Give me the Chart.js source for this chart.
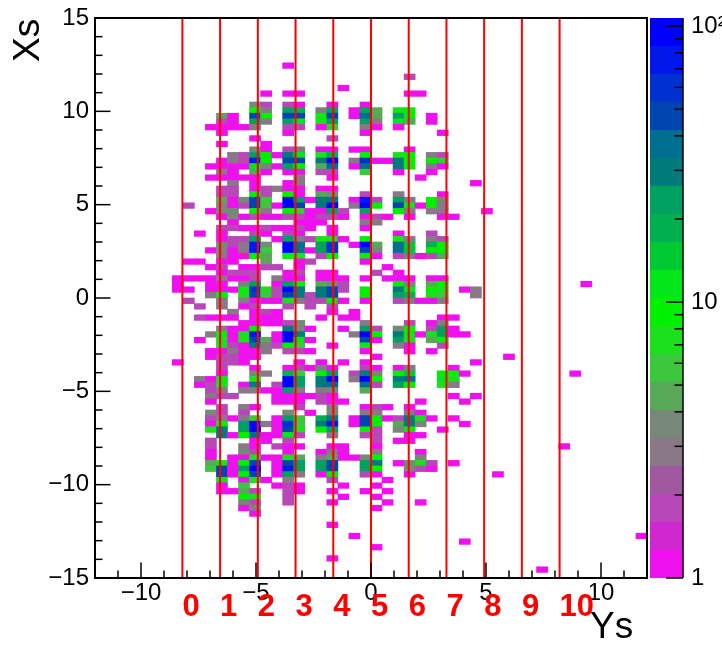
<!DOCTYPE html>
<html>
<head>
<meta charset="utf-8">
<style>
html, body { margin: 0; padding: 0; background: #fff; overflow: hidden; }
canvas { position: absolute; left: 0; top: 0; }
</style>
<script src="https://cdn.jsdelivr.net/npm/chart.js@4"></script>
</head>
<body>
<canvas id="hist" width="722" height="645"></canvas>
<canvas id="palette" width="722" height="645"></canvas>
<script>
// axis ticks
const ysTicks = [-10, -5, 0, 5, 10];
const xsTicks = [-15, -10, -5, 0, 5, 10, 15];
const zTicks = [1, 10, 100];
const zTickLabels = ['1', '10', '10\u00b2'];

// red strip lines
const stripYs = [-8.2, -6.56, -4.92, -3.28, -1.64, 0, 1.64, 3.28, 4.92, 6.56, 8.2];
const stripLabels = ['0', '1', '2', '3', '4', '5', '6', '7', '8', '9', '10'];

// palette bands, bottom to top
const zEdges = [1, 1.263, 1.595, 2.014, 2.545, 3.214, 4.06, 5.13, 6.48, 8.18, 10.33, 13.05, 16.5, 20.8, 26.3, 33.2, 41.9, 53, 66.9, 84.6, 107];
const zColors = ['#ee11ee', '#d028d0', '#b848b8', '#a058a0', '#887888', '#788878', '#58a858', '#3cc83c', '#1ce01c', '#00f000',
    '#00e618', '#00c830', '#00b050', '#00a060', '#007a7a', '#006e8e', '#0044b0', '#0030d0', '#0018ec', '#0000ff'];

// histogram binning
const ysBinWidth = 0.48;
const xsBinWidth = 0.3;
const xsTop = 15;

// filled bins: [row from the top, column from Ys=0, count, column, count, ...]
const rowHits = [
    [8, -8,1],
    [10, 3,2],
    [12, -3,1],
    [13, -10,1, -8,1, -7,1, 3,1, 4,1],
    [15, -11,4, -10,2, -8,2, -7,1, -4,1, -1,1],
    [16, -11,9, -10,3, -8,22, -7,18, -5,3, -4,22, -2,1, -1,22, 0,5, 2,8, 3,9],
    [17, -14,5, -13,1, -11,50, -10,9, -8,50, -7,50, -5,9, -4,50, -2,1, -1,38, 0,5, 2,22, 3,9, 5,1],
    [18, -14,2, -13,1, -11,22, -10,3, -8,22, -7,12, -5,8, -4,22, -1,22, 0,3, 2,12, 3,5, 5,1],
    [19, -15,1, -14,1, -13,1, -12,1, -11,3, -8,2, -7,2, -5,1, -4,6, -1,3, 0,1, 2,1],
    [20, -14,1, -8,1, -1,1, 6,1],
    [21, -11,1, -4,2],
    [22, -14,1, -10,1],
    [23, -11,4, -10,1, -8,2, -7,3, -5,1, -4,1, -2,1, -1,1, 3,1],
    [24, -13,3, -12,2, -11,22, -10,9, -9,1, -8,30, -7,12, -5,8, -4,18, -1,9, 2,8, 3,9, 5,3, 6,2],
    [25, -14,1, -13,3, -12,2, -11,75, -10,9, -8,50, -7,50, -5,30, -4,95, -2,3, -1,60, 0,1, 1,1, 2,30, 3,9, 5,9, 6,6],
    [26, -15,1, -14,1, -13,1, -12,1, -11,12, -10,4, -9,1, -8,22, -7,9, -5,5, -4,38, -2,1, -1,38, 2,30, 3,9, 5,3, 6,1],
    [27, -14,3, -13,1, -11,5, -10,1, -8,1, -7,1, -5,2, -4,2, -1,6, 2,1, 5,1],
    [28, -15,1, -14,1, -13,1, -12,1, -11,1, -7,3, -4,1, 4,1],
    [29, -13,3, -11,1, -8,1, -7,3, 9,1],
    [30, -14,2, -13,2, -11,1, -10,2, -9,3, -8,1, -7,1, -5,1, -4,1],
    [31, -14,2, -13,2, -11,9, -10,2, -8,9, -7,1, -5,5, -4,4, -1,2, 2,3, 6,1],
    [32, -14,5, -13,1, -12,4, -11,50, -10,6, -8,95, -7,22, -6,1, -5,30, -4,30, -2,1, -1,75, 0,2, 2,22, 3,3, 5,9, 6,4],
    [33, -17,2, -14,4, -13,1, -12,2, -11,50, -10,6, -9,1, -8,95, -7,50, -5,30, -4,95, -2,3, -1,95, 0,9, 2,50, 3,9, 4,1, 5,9, 6,3],
    [34, -15,1, -14,4, -13,4, -11,9, -10,3, -8,9, -7,6, -6,1, -5,1, -4,22, -3,2, -1,22, 2,9, 3,3, 5,3, 6,3, 10,1],
    [35, -14,1, -13,4, -12,1, -11,2, -10,1, -9,1, -8,2, -7,2, -6,1, -5,2, -4,2, -3,1, -1,1, 0,2, 1,1, 3,1, 6,1, 7,1],
    [36, -13,1, -7,1, -6,1, -5,1, -1,3, 0,3],
    [37, -14,2, -13,2, -12,1, -11,1, -10,2, -9,1, -8,1, -7,2, -6,1, -4,1, -1,1],
    [38, -16,1, -14,1, -11,2, -10,1, -8,2, -7,1, -4,1, 2,1, 5,2],
    [39, -14,1, -13,2, -12,2, -11,22, -9,1, -8,22, -7,3, -6,2, -5,8, -4,8, -3,1, -1,9, 2,8, 3,3, 5,3, 6,2],
    [40, -14,4, -13,2, -12,3, -11,75, -10,4, -8,95, -7,38, -5,22, -4,60, -2,1, -1,95, 0,5, 2,38, 3,14, 5,18, 6,9],
    [41, -15,1, -14,4, -13,1, -12,3, -11,75, -10,6, -8,95, -7,38, -6,1, -5,22, -4,60, -1,50, 0,4, 2,38, 3,14, 5,9, 6,9],
    [42, -14,3, -13,1, -12,1, -11,9, -10,5, -8,9, -7,8, -5,2, -4,9, -1,9, 0,1, 2,2, 3,3, 4,1, 5,2, 6,5],
    [43, -17,1, -16,1, -14,1, -13,1, -10,5, -7,1, -6,2, -1,1],
    [44, -15,1, -14,2, -12,1, -11,1, -10,2, -9,2, -7,1, 1,1],
    [45, -14,1, -13,2, -12,2, -11,2, -8,1, -7,2, -5,1, -4,1, 0,2, 2,1],
    [46, -18,1, -17,1, -16,1, -15,1, -14,3, -13,1, -12,1, -11,2, -9,3, -8,1, -7,1, -5,1, -4,1, -3,1, -1,1, 1,1, 2,1, 3,1, 5,1, 6,1],
    [47, -18,1, -15,1, -14,1, -12,3, -11,22, -9,1, -8,22, -7,9, -5,5, -4,4, -3,2, 2,8, 3,3, 5,5, 6,9, 19,1],
    [48, -18,1, -17,1, -15,1, -14,1, -13,1, -12,9, -11,60, -10,8, -9,2, -8,95, -7,30, -5,30, -4,50, -3,2, -1,9, 2,30, 3,12, 5,9, 6,8, 8,1, 9,3],
    [49, -15,3, -14,9, -12,8, -11,50, -10,6, -9,2, -8,50, -7,30, -6,2, -5,30, -4,50, -1,9, 2,22, 3,18, 5,8, 6,6, 9,3],
    [50, -17,2, -14,3, -12,3, -11,1, -10,1, -9,1, -8,8, -7,3, -6,2, -5,2, -4,9, -3,1, -1,1, 2,2, 3,3, 4,1, 5,1, 6,3],
    [51, -16,2, -14,3, -12,1, -11,2, -8,2, -6,2, -4,2],
    [52, -13,3, -11,1, -10,2, -9,1, -4,1, -2,1],
    [53, -16,2, -15,1, -14,1, -13,1, -11,1, -10,1, -9,1, -5,1, -3,1, -2,1, 6,1, 7,1],
    [54, -12,1, -11,1, -10,1, -9,1, -8,2, -7,4, -1,3, 3,2, 5,1, 6,3],
    [55, -14,3, -13,1, -12,1, -11,9, -8,30, -7,4, -6,1, -3,1, -1,22, 0,2, 2,4, 3,9, 5,2, 6,22, 7,1],
    [56, -15,3, -14,9, -13,1, -12,8, -11,75, -9,1, -8,95, -7,30, -2,3, -1,95, 0,9, 2,30, 3,9, 4,1, 5,8, 6,22, 7,1, 8,1],
    [57, -16,1, -14,8, -13,1, -12,8, -11,50, -10,5, -9,1, -8,95, -7,12, -6,1, -1,50, 0,1, 2,22, 3,8, 5,5, 6,9],
    [58, -14,7, -13,2, -12,1, -11,30, -10,3, -9,2, -8,9, -7,6, -4,1, -1,9, 2,3, 3,1, 6,2],
    [59, -15,1, -14,1, -13,3, -12,1, -11,1, -10,3, -8,2, -7,2, -6,1, -1,1, 3,1, 5,1],
    [60, -15,1, -14,2, -13,2, -12,1, -11,1, 0,1, 12,1],
    [61, -18,1, -14,2, -13,2, -12,1, -7,1, -5,1, -3,1, -1,1, 9,1],
    [62, -14,2, -11,1, -8,1, -7,2, -6,1, -5,3, -4,1, -1,2, 0,1, 2,1, 3,3, 7,1],
    [63, -14,1, -11,4, -10,3, -8,18, -7,6, -5,9, -4,22, -2,2, -1,30, 0,4, 2,9, 3,14, 6,9, 7,9, 8,1, 18,1],
    [64, -16,3, -15,1, -14,9, -11,8, -8,95, -7,22, -5,30, -4,95, -2,3, -1,95, 0,9, 2,30, 3,38, 6,12, 7,8],
    [65, -16,1, -15,2, -14,8, -12,1, -11,30, -9,2, -8,95, -7,22, -5,30, -4,38, -1,38, 0,2, 2,22, 3,9, 6,8, 7,3],
    [66, -15,2, -14,3, -12,3, -11,3, -10,1, -9,1, -8,22, -7,3, -5,3, -4,4, -1,5],
    [67, -15,3, -14,2, -13,2, -9,1, -8,1, -7,1, -6,1, -5,2, -4,1, 7,1, 9,1],
    [68, -15,1, -9,1, -8,1, -7,1, -5,2, -4,1, -3,1, 4,1, 8,1],
    [69, -14,2, -12,3, -11,1, -7,2, -4,3, -1,1, 0,2, 1,1, 3,1],
    [70, -15,4, -14,2, -12,2, -8,4, -6,1, -4,4, -1,3, 0,3, 3,3, 4,1],
    [71, -15,2, -14,3, -13,1, -12,3, -11,6, -9,1, -8,22, -7,6, -5,18, -4,30, -2,1, -1,50, 0,9, 1,1, 2,2, 3,30, 4,8, 5,1, 7,1],
    [72, -15,1, -14,9, -12,22, -11,95, -10,3, -9,1, -8,60, -7,6, -5,30, -4,75, -2,1, -1,50, 0,9, 2,5, 3,30, 4,4, 8,1],
    [73, -15,8, -14,30, -12,22, -11,95, -9,1, -8,50, -7,8, -5,9, -4,22, -1,9, 0,2, 2,4, 3,9, 6,1],
    [74, -14,30, -13,1, -12,9, -11,38, -10,1, -9,1, -8,12, -7,2, -4,3, -1,2, 0,2, 3,1, 4,1],
    [75, -15,2, -11,1, -10,1, -8,2, 0,2, 2,1, 3,1],
    [76, -15,2, -12,3, -11,1, -9,2, -8,1, -7,1, -4,1, -3,1, 0,1, 17,1],
    [77, -15,1, -12,4, -11,2, -8,1, -5,1, -4,3, -3,1, 0,3, 4,1],
    [78, -15,1, -13,1, -12,1, -11,8, -10,1, -9,1, -8,8, -7,5, -5,3, -4,5, -3,1, -2,1, -1,4, 0,9, 4,4],
    [79, -15,5, -14,9, -13,1, -12,9, -11,50, -9,1, -8,50, -7,22, -5,22, -4,50, -1,22, 0,30, 2,1, 3,4, 4,8, 5,2, 7,1],
    [80, -15,6, -14,50, -13,1, -12,22, -11,95, -9,1, -8,75, -7,22, -5,22, -4,50, -1,22, 0,9, 3,4, 4,2, 5,1],
    [81, -14,50, -13,1, -12,9, -11,50, -9,1, -8,22, -7,3, -5,1, -4,9, -1,2, 0,1, 3,1, 11,1],
    [82, -14,8, -12,1, -11,8, -10,1, -8,3, -4,2, 1,1],
    [83, -14,1, -12,6, -9,1, -8,2, -7,1, -3,1, 0,1],
    [84, -14,1, -13,1, -12,5, -11,2, -8,2, -7,1, -4,1, -1,1, 1,1],
    [85, -12,9, -11,8, -8,2, -3,1, 0,1],
    [86, -12,4, -11,2, -8,2, -4,1, 1,1, 4,1],
    [87, -12,1, -11,4, 0,1],
    [88, -11,1],
    [90, -4,1],
    [92, -2,1, 24,1],
    [93, 8,1],
    [94, 0,1],
    [96, -4,1],
    [98, 15,1]
];

const sansFont = '"Liberation Sans", Arial, sans-serif';
const tickFont = {family: sansFont, size: 24};

const bins = [];
rowHits.forEach(hit => {
    const top = xsTop - hit[0] * xsBinWidth;
    for (let i = 1; i < hit.length; i += 2) {
        bins.push({
            x: (hit[i] + 0.5) * ysBinWidth,
            y: [top - xsBinWidth, top],
            count: hit[i + 1]
        });
    }
});

const bandColor = count => {
    let band = 0;
    while (band < zColors.length - 1 && count >= zEdges[band + 1]) band++;
    return zColors[band];
};

const minusSign = v => String(v).replace('-', '\u2212');

const tickLine = (ctx, x1, y1, x2, y2) => {
    ctx.beginPath();
    ctx.moveTo(x1, y1);
    ctx.lineTo(x2, y2);
    ctx.stroke();
};

// labels may overhang the plot, the frame has to stay put
const noOverhang = s => {
    s.paddingTop = 0;
    s.paddingBottom = 0;
    s.paddingLeft = 0;
    s.paddingRight = 0;
};

// ROOT style frame, inward ticks, axis titles and strip numbers
const frame = {
    id: 'frame',
    afterDatasetsDraw(chart) {
        const {ctx, chartArea: a, scales} = chart;
        ctx.save();
        ctx.strokeStyle = '#000';
        ctx.lineWidth = 1.5;
        for (let v = -12; v <= 12; v++) {
            const px = scales.x.getPixelForValue(v);
            tickLine(ctx, px, a.bottom, px, a.bottom - (v % 5 === 0 ? 15.5 : 7.5));
        }
        for (let v = -15; v <= 15; v++) {
            const py = scales.y.getPixelForValue(v);
            tickLine(ctx, a.left, py, a.left + (v % 5 === 0 ? 15.5 : 7.5), py);
        }
        ctx.lineWidth = 2;
        ctx.strokeRect(a.left, a.top, a.right - a.left, a.bottom - a.top);

        ctx.fillStyle = '#f00';
        ctx.font = 'bold 31px ' + sansFont;
        ctx.textAlign = 'left';
        ctx.textBaseline = 'alphabetic';
        stripYs.forEach((v, i) => {
            ctx.fillText(stripLabels[i], scales.x.getPixelForValue(v), 616);
        });

        ctx.fillStyle = '#000';
        ctx.font = '37px ' + sansFont;
        ctx.fillText('Ys', 590, 638);
        ctx.translate(39, 62);
        ctx.rotate(-Math.PI / 2);
        ctx.fillText('Xs', 0, 0);
        ctx.restore();
    }
};

new Chart(document.getElementById('hist'), {
    type: 'bar',
    data: {
        datasets: [
            ...stripYs.map(v => ({
                type: 'line',
                data: [{x: v, y: -15}, {x: v, y: 15}],
                borderColor: '#ff0000',
                borderWidth: 2,
                pointRadius: 0,
                order: 1
            })),
            {
                data: bins,
                backgroundColor: c => c.raw ? bandColor(c.raw.count) : zColors[0],
                categoryPercentage: 1,
                barPercentage: 1,
                borderWidth: 0,
                order: 2
            }
        ]
    },
    options: {
        responsive: false,
        animation: false,
        events: [],
        layout: {padding: {top: 18, right: 75, left: 0, bottom: 0}},
        plugins: {legend: {display: false}, tooltip: {enabled: false}},
        scales: {
            x: {
                type: 'linear',
                min: -12,
                max: 12,
                offset: false,
                grid: {display: false, drawTicks: false},
                border: {display: false},
                afterBuildTicks: s => { s.ticks = ysTicks.map(v => ({value: v})); },
                afterFit: s => { s.height = 67; noOverhang(s); },
                ticks: {font: tickFont, color: '#000', padding: 1, autoSkip: false, maxRotation: 0, callback: minusSign}
            },
            y: {
                type: 'linear',
                min: -15,
                max: 15,
                grid: {display: false, drawTicks: false},
                border: {display: false},
                afterBuildTicks: s => { s.ticks = xsTicks.map(v => ({value: v})); },
                afterFit: s => { s.width = 95; noOverhang(s); },
                ticks: {font: tickFont, color: '#000', padding: 6, autoSkip: false, callback: minusSign}
            }
        }
    },
    plugins: [frame]
});

// palette ticks point inward from the right edge
const paletteTicks = {
    id: 'paletteTicks',
    afterDatasetsDraw(chart) {
        const {ctx, chartArea: a, scales} = chart;
        ctx.save();
        ctx.strokeStyle = '#000';
        ctx.lineWidth = 1.5;
        tickLine(ctx, a.right, a.top, a.right, a.bottom);
        zTicks.forEach(decade => {
            for (let m = 1; m < 10; m++) {
                const v = decade * m;
                if (v > scales.y.max) break;
                const py = scales.y.getPixelForValue(v);
                tickLine(ctx, a.right, py, a.right - (m === 1 ? 17 : 8.5), py);
            }
        });
        ctx.restore();
    }
};

new Chart(document.getElementById('palette'), {
    type: 'bar',
    data: {
        labels: ['z'],
        datasets: zColors.map((color, i) => ({
            data: [[zEdges[i], zEdges[i + 1]]],
            backgroundColor: color,
            categoryPercentage: 1,
            barPercentage: 1,
            borderWidth: 0,
            grouped: false
        }))
    },
    options: {
        responsive: false,
        animation: false,
        events: [],
        layout: {padding: {top: 18, right: 0, left: 650, bottom: 67}},
        plugins: {legend: {display: false}, tooltip: {enabled: false}},
        scales: {
            x: {display: false},
            y: {
                type: 'logarithmic',
                position: 'right',
                min: 1,
                max: 107,
                grid: {display: false, drawTicks: false},
                border: {display: false},
                afterBuildTicks: s => { s.ticks = zTicks.map(v => ({value: v})); },
                afterFit: s => { s.width = 39; noOverhang(s); },
                ticks: {
                    font: tickFont,
                    color: '#000',
                    padding: 8,
                    autoSkip: false,
                    callback: v => zTickLabels[zTicks.indexOf(v)]
                }
            }
        }
    },
    plugins: [paletteTicks]
});
</script>
</body>
</html>
